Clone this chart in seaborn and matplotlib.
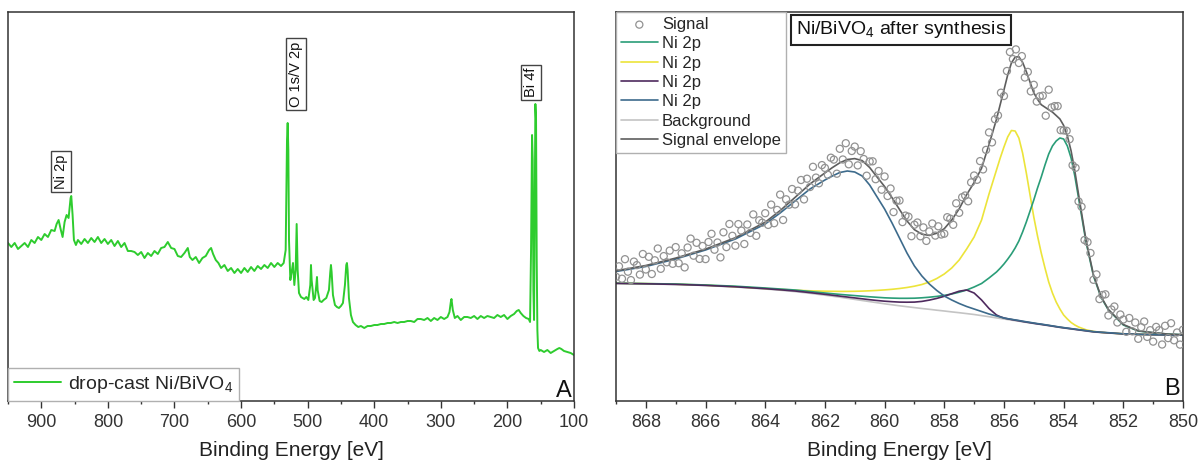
import numpy as np
import pandas as pd
import matplotlib
matplotlib.use("Agg")
import matplotlib.pyplot as plt
import seaborn as sns
from matplotlib.ticker import MultipleLocator

# ---------------- Panel A: survey spectrum ----------------
survey_be = [950, 945, 940, 935, 930, 925, 920, 915, 910, 905,
             900, 895, 890, 885, 880, 877, 874, 871, 868, 865,
             862, 859, 856, 855, 853, 851, 848, 845, 840, 835,
             830, 825, 820, 815, 810, 805, 800, 795, 790, 785,
             780, 775, 770, 765, 760, 755, 750, 745, 740, 735,
             730, 725, 720, 715, 710, 705, 700, 695, 690, 685,
             680, 677, 673, 668, 663, 658, 653, 648, 645, 642,
             638, 634, 630, 625, 620, 615, 610, 605, 600, 595,
             590, 585, 580, 575, 570, 565, 560, 555, 550, 545,
             540, 536, 533, 531, 530, 529, 528, 526, 524, 522,
             520, 518, 516.5, 515, 513, 510, 505, 502, 499, 496,
             495, 494, 491, 489, 487, 486, 485, 482, 479, 476,
             472, 468, 466, 465, 464, 462, 459, 456, 453, 450,
             447, 444, 442, 441, 440, 438, 435, 432, 428, 424,
             420, 415, 410, 405, 400, 395, 390, 385, 380, 375,
             370, 365, 360, 355, 350, 345, 340, 335, 330, 325,
             320, 315, 310, 305, 300, 295, 290, 287, 285, 284,
             282, 279, 275, 270, 265, 260, 255, 250, 245, 240,
             235, 230, 225, 220, 215, 210, 205, 200, 195, 190,
             186, 183, 180, 176, 172, 168, 166, 164.5, 163, 162,
             161, 160, 159, 158, 157, 156, 155, 154, 152, 150,
             145, 140, 135, 130, 125, 122, 119, 115, 110, 105,
             100]
survey_int = [155, 151, 155, 149, 152, 155, 151, 158, 155, 161,
              158, 164, 161, 168, 167, 174, 178, 169, 161, 176,
              183, 180, 200, 202, 183, 158, 153, 158, 154, 159,
              155, 160, 156, 161, 155, 159, 154, 158, 152, 157,
              151, 155, 147, 147, 146, 143, 146, 140, 145, 142,
              147, 144, 150, 151, 156, 150, 149, 142, 141, 145,
              150, 141, 138, 141, 135, 140, 142, 148, 150, 144,
              138, 135, 130, 133, 127, 130, 125, 129, 125, 130,
              126, 131, 127, 132, 129, 133, 130, 135, 131, 135,
              132, 135, 148, 258, 275, 248, 158, 118, 126, 135,
              113, 128, 174, 128, 105, 101, 99, 101, 98, 113,
              133, 118, 98, 100, 113, 121, 108, 97, 96, 98,
              100, 108, 126, 133, 126, 103, 93, 91, 90, 92,
              95, 113, 133, 135, 128, 100, 83, 76, 73, 71,
              72, 70, 72, 72, 73, 73, 74, 74, 75, 75,
              76, 75, 76, 76, 77, 77, 76, 79, 79, 78,
              80, 77, 80, 78, 81, 79, 81, 86, 96, 99,
              88, 80, 82, 78, 81, 81, 80, 82, 79, 82,
              80, 82, 81, 80, 83, 81, 83, 79, 82, 84,
              87, 88, 85, 82, 80, 79, 76, 148, 263, 238,
              108, 78, 178, 294, 278, 138, 68, 50, 47, 48,
              46, 48, 45, 47, 49, 50, 49, 47, 46, 45,
              43]

peak_labels = ["Ni 2p", "O 1s/V 2p", "Bi 4f"]
peak_label_be = [870, 517.5, 165]
peak_label_int = [226.5, 324, 315.5]

# ---------------- Panel B: Ni 2p high resolution ----------------
fit_be = [869, 868, 867, 866, 865, 864, 863.5, 863, 862.5, 862,
          861.75, 861.5, 861.25, 861, 860.75, 860.5, 860.25, 860,
          859.75, 859.5, 859.25, 859, 858.75, 858.5, 858.25, 858,
          857.75, 857.5, 857.25, 857, 856.75, 856.5, 856.25, 856.125, 856, 855.875,
          855.75, 855.625, 855.5, 855.375, 855.25, 855.125, 855, 854.875,
          854.75, 854.625, 854.5, 854.375, 854.25, 854.125, 854, 853.875,
          853.75, 853.625, 853.5, 853.25, 853, 852.75, 852.5, 852,
          851.5, 851, 850.5, 850]
background = [114.5, 114, 113.5, 112.5, 111, 109, 107.8, 106.4, 104.7, 102.8,
              101.8, 100.8, 99.7, 98.6, 97.5, 96.4, 95.3, 94.2,
              93.2, 92.2, 91.3, 90.4, 89.5, 88.7, 87.8, 87,
              86.1, 85.3, 84.4, 83.5, 82.4, 81.3, 80.1, 79.55, 79, 78.45,
              77.9, 77.35, 76.8, 76.2, 75.6, 75.05, 74.5, 73.95,
              73.4, 72.85, 72.3, 71.7, 71.1, 70.55, 70, 69.5,
              69, 68.5, 68, 67, 66, 65.5, 65, 64,
              63.6, 63.3, 63.1, 63]
ni2p_green = [114.8, 114.4, 114, 113, 111.8, 110, 109, 108, 106.5, 105,
              104.3, 103.6, 103, 102.4, 101.8, 101.2, 100.7, 100.2,
              99.9, 99.7, 99.7, 99.8, 100.2, 100.8, 101.6, 102.6,
              104, 105.8, 108, 111, 114.5, 120, 126, 129.8, 134, 138.8,
              144, 150, 157, 166, 176, 187, 198, 210,
              221, 233, 244, 252, 257, 260, 259, 252,
              240, 222, 200, 156, 122, 101, 88, 73,
              67, 65.2, 63.9, 63.3]
ni2p_yellow = [114.8, 114.4, 113.8, 112.8, 111.3, 109.5, 108.6, 107.8, 107.2, 106.8,
               106.7, 106.6, 106.6, 106.7, 106.9, 107.2, 107.6, 108.1,
               108.7, 109.5, 110.5, 111.8, 113.5, 116, 119.5, 124,
               130, 138, 149, 161, 178, 204, 228, 240, 251, 261,
               267.5, 267, 260, 245, 225, 203, 181, 162,
               145, 130, 116, 105, 96, 89, 83, 79,
               75.5, 73, 71, 68.2, 66.6, 65.7, 65.1, 64.2,
               63.7, 63.4, 63.1, 63]
ni2p_purple = [114.6, 114.2, 113.6, 112.6, 111.2, 109.3, 108.2, 107, 105.4, 103.7,
               102.8, 101.9, 101, 100.1, 99.2, 98.3, 97.5, 96.8,
               96.3, 95.9, 95.8, 95.9, 96.6, 97.9, 99.6, 101.7,
               104.3, 106.8, 108, 105, 98, 89.5, 83, 81.3, 80, 79.2,
               78.5, 77.8, 77.2, 76.5, 75.9, 75.3, 74.7, 74.1,
               73.6, 73, 72.5, 71.9, 71.3, 70.7, 70.2, 69.7,
               69.2, 68.7, 68.2, 67.2, 66.2, 65.6, 65.1, 64.1,
               63.6, 63.3, 63.1, 63]
ni2p_blue = [126.5, 131.5, 139, 148, 159, 174, 185, 197, 209, 218,
             222, 225.5, 227, 226, 222, 213, 201, 189,
             175, 160, 145, 132, 122, 114, 107.5, 102,
             98, 94.5, 91.5, 89, 86.5, 84, 82, 81, 80, 79.3,
             78.7, 78.1, 77.5, 76.8, 76.2, 75.6, 75, 74.4,
             73.9, 73.3, 72.7, 72.1, 71.5, 70.9, 70.4, 69.9,
             69.4, 68.9, 68.4, 67.4, 66.4, 65.8, 65.3, 64.2,
             63.7, 63.4, 63.1, 63]
envelope = [127.2, 132.5, 139.9, 148.9, 160.3, 175.8, 187.4, 200.6, 214, 225.1,
            230.4, 235.2, 238.5, 239.4, 237.4, 230.5, 220.9, 211.5,
            200.3, 188.5, 177.1, 168.3, 163.8, 162.6, 164.8, 169.3,
            178, 189.2, 203.3, 215.5, 229.8, 253.6, 278.7, 293.5, 308, 323,
            335, 340.9, 341.3, 335.7, 326.3, 315.8, 305.2, 298.7,
            293.3, 290.8, 288.3, 285.9, 282.5, 279, 272.6, 262.1,
            247.1, 227.1, 203.6, 157.8, 123.2, 101.6, 88.5, 73.5,
            67.2, 65.4, 63.9, 63.3]

signal_be = [869.0, 868.9, 868.8, 868.7, 868.6, 868.5, 868.4, 868.3, 868.2, 868.1,
             868.0, 867.9, 867.8, 867.7, 867.6, 867.5, 867.4, 867.3, 867.2, 867.1,
             867.0, 866.9, 866.8, 866.7, 866.6, 866.5, 866.4, 866.3, 866.2, 866.1,
             866.0, 865.9, 865.8, 865.7, 865.6, 865.5, 865.4, 865.3, 865.2, 865.1,
             865.0, 864.9, 864.8, 864.7, 864.6, 864.5, 864.4, 864.3, 864.2, 864.1,
             864.0, 863.9, 863.8, 863.7, 863.6, 863.5, 863.4, 863.3, 863.2, 863.1,
             863.0, 862.9, 862.8, 862.7, 862.6, 862.5, 862.4, 862.3, 862.2, 862.1,
             862.0, 861.9, 861.8, 861.7, 861.6, 861.5, 861.4, 861.3, 861.2, 861.1,
             861.0, 860.9, 860.8, 860.7, 860.6, 860.5, 860.4, 860.3, 860.2, 860.1,
             860.0, 859.9, 859.8, 859.7, 859.6, 859.5, 859.4, 859.3, 859.2, 859.1,
             859.0, 858.9, 858.8, 858.7, 858.6, 858.5, 858.4, 858.3, 858.2, 858.1,
             858.0, 857.9, 857.8, 857.7, 857.6, 857.5, 857.4, 857.3, 857.2, 857.1,
             857.0, 856.9, 856.8, 856.7, 856.6, 856.5, 856.4, 856.3, 856.2, 856.1,
             856.0, 855.9, 855.8, 855.7, 855.6, 855.5, 855.4, 855.3, 855.2, 855.1,
             855.0, 854.9, 854.8, 854.7, 854.6, 854.5, 854.4, 854.3, 854.2, 854.1,
             854.0, 853.9, 853.8, 853.7, 853.6, 853.5, 853.4, 853.3, 853.2, 853.1,
             853.0, 852.9, 852.8, 852.7, 852.6, 852.5, 852.4, 852.3, 852.2, 852.1,
             852.0, 851.9, 851.8, 851.7, 851.6, 851.5, 851.4, 851.3, 851.2, 851.1,
             851.0, 850.9, 850.8, 850.7, 850.6, 850.5, 850.4, 850.3, 850.2, 850.1,
             850.0]
signal_int = [121.2, 131.7, 119.3, 138.8, 126.3, 117.9, 136.4, 132.9, 123.4, 144.0,
              128.5, 141.2, 124.0, 137.7, 149.5, 129.2, 141.9, 135.7, 147.4, 134.2,
              150.9, 134.8, 144.7, 130.6, 150.5, 159.4, 142.3, 155.2, 139.1, 152.0,
              138.9, 156.0, 164.2, 148.3, 155.5, 140.6, 165.7, 150.9, 174.0, 162.2,
              152.3, 173.9, 167.4, 154.0, 173.5, 165.1, 183.6, 162.2, 177.7, 175.3,
              184.8, 173.1, 193.4, 174.8, 188.1, 203.4, 178.0, 198.7, 193.3, 209.0,
              193.6, 207.3, 218.0, 198.6, 219.3, 211.0, 231.2, 220.4, 214.7, 232.9,
              230.1, 223.2, 240.3, 238.4, 224.3, 249.2, 238.5, 254.8, 233.7, 247.0,
              251.4, 232.6, 246.8, 239.0, 222.3, 236.5, 236.7, 218.8, 227.0, 208.3,
              221.5, 202.0, 209.5, 185.9, 197.2, 197.5, 175.9, 182.4, 181.3, 161.8,
              173.3, 175.5, 161.7, 170.6, 157.1, 166.6, 174.5, 162.4, 171.7, 163.5,
              164.3, 180.8, 179.3, 173.2, 194.7, 185.2, 200.8, 202.5, 196.7, 215.6,
              222.5, 218.2, 236.9, 228.6, 248.1, 265.6, 255.6, 278.7, 282.6, 305.3,
              302.0, 327.0, 346.0, 338.9, 348.6, 335.0, 341.9, 320.5, 326.1, 306.6,
              313.2, 296.4, 301.7, 302.3, 282.3, 308.3, 290.6, 291.9, 291.9, 267.8,
              267.6, 267.2, 258.8, 232.8, 230.2, 196.6, 191.3, 158.0, 155.9, 145.0,
              118.2, 123.6, 98.9, 103.0, 103.7, 82.5, 88.5, 91.5, 75.5, 83.5,
              78.5, 66.2, 80.0, 66.7, 75.5, 59.2, 70.8, 76.5, 61.1, 67.8,
              56.4, 71.1, 67.8, 53.5, 72.2, 59.9, 74.8, 57.7, 65.5, 53.4,
              68.3]

component_labels = ["Ni 2p", "Ni 2p", "Ni 2p", "Ni 2p", "Background", "Signal envelope"]

# ---------------- style ----------------
sns.set_style("ticks")
plt.rcParams["font.family"] = ["Liberation Sans", "DejaVu Sans"]
plt.rcParams["mathtext.fontset"] = "custom"
plt.rcParams["mathtext.rm"] = "Liberation Sans"
plt.rcParams["mathtext.default"] = "regular"

C_SURVEY = "#2ecc2e"
C_GREEN = "#2a9d78"
C_YELLOW = "#ece43a"
C_PURPLE = "#4e2a5e"
C_BG = "#c4c4c4"
C_BLUE = "#3d6b8c"
C_ENV = "#5e5e5e"
C_SIG = "#929292"
C_AX = "#333333"

W, H = 1202, 463
AX_BOTTOM, AX_TOP = 401, 12
fig = plt.figure(figsize=(W / 100, H / 100), dpi=100)
axA = fig.add_axes([8 / W, (H - AX_BOTTOM) / H, 566 / W, (AX_BOTTOM - AX_TOP) / H])
axB = fig.add_axes([616 / W, (H - AX_BOTTOM) / H, 567 / W, (AX_BOTTOM - AX_TOP) / H])


def style_axis(ax, major, minor):
    for sp in ax.spines.values():
        sp.set_visible(True)
        sp.set_color(C_AX)
        sp.set_linewidth(1.1)
    ax.set_yticks([])
    ax.set_ylabel("")
    ax.xaxis.set_major_locator(MultipleLocator(major))
    ax.xaxis.set_minor_locator(MultipleLocator(minor))
    ax.tick_params(axis="x", which="major", direction="out", length=5, width=1,
                   color=C_AX, labelsize=13, labelcolor="#333333", pad=4.5)
    ax.tick_params(axis="x", which="minor", direction="out", length=2.5, width=1, color=C_AX)
    ax.set_xlabel("Binding Energy [eV]", fontsize=15, color="#222222", labelpad=7)


# ---- Panel A ----
dfA = pd.DataFrame({"be": survey_be, "intensity": survey_int})
sns.lineplot(data=dfA, x="be", y="intensity", ax=axA, color=C_SURVEY, linewidth=1.4,
             estimator=None, sort=False, label="drop-cast Ni/BiVO$_4$")
axA.set_xlim(950, 100)
axA.set_ylim(-3, 386)
style_axis(axA, 100, 50)
for lab, xb, yi in zip(peak_labels, peak_label_be, peak_label_int):
    axA.text(xb, yi, lab, rotation=90, ha="center", va="center", fontsize=10.5,
             color="#111111",
             bbox=dict(boxstyle="square,pad=0.2", fc="white", ec="#444444", lw=1))
legA = axA.legend(loc="lower left", borderaxespad=0, fontsize=14, handlelength=2.4,
                  handletextpad=0.4, borderpad=0.3, frameon=True, fancybox=False,
                  edgecolor="#b0b0b0", framealpha=1)
legA.get_frame().set_linewidth(1.0)
axA.text(0.9965, 0.009, "A", transform=axA.transAxes, ha="right", va="baseline",
         fontsize=17, color="#111111")

# ---- Panel B ----
dfFit = pd.DataFrame({"be": fit_be, "bg": background, "g": ni2p_green, "y": ni2p_yellow,
                      "p": ni2p_purple, "b": ni2p_blue, "env": envelope})
dfSig = pd.DataFrame({"be": signal_be, "intensity": signal_int})

line_specs = [("g", C_GREEN, component_labels[0]),
              ("y", C_YELLOW, component_labels[1]),
              ("p", C_PURPLE, component_labels[2]),
              ("b", C_BLUE, component_labels[3]),
              ("bg", C_BG, component_labels[4]),
              ("env", C_ENV, component_labels[5])]
sns.scatterplot(data=dfSig, x="be", y="intensity", ax=axB, marker="o", s=26,
                facecolor="none", edgecolor=C_SIG, linewidth=0.9, label="Signal", zorder=3)
zorders = {"bg": 1.5, "g": 2.2, "y": 2.1, "p": 2.3, "b": 2.4, "env": 2.6}
for col, colr, lab in line_specs:
    sns.lineplot(data=dfFit, x="be", y=col, ax=axB, color=colr, linewidth=1.2,
                 estimator=None, sort=False, label=lab, zorder=zorders[col])
axB.set_xlim(869, 850)
axB.set_ylim(-3, 386)
style_axis(axB, 2, 1)
handles, labels = axB.get_legend_handles_labels()
legB = axB.legend(handles, labels, loc="upper left", borderaxespad=0, fontsize=12,
                  labelspacing=0.26, handlelength=2.2, handletextpad=0.25, borderpad=0.3,
                  frameon=True, fancybox=False, edgecolor="#b0b0b0", framealpha=1,
                  scatterpoints=1)
legB.get_frame().set_linewidth(1.0)
axB.text(0.502, 0.954, "Ni/BiVO$_4$ after synthesis", transform=axB.transAxes,
         ha="center", va="center", fontsize=14, color="#111111",
         bbox=dict(boxstyle="square,pad=0.25", fc="white", ec="#222222", lw=1.5))
axB.text(0.9947, 0.015, "B", transform=axB.transAxes, ha="right", va="baseline",
         fontsize=17, color="#111111")

fig.savefig("out.png", dpi=100)
